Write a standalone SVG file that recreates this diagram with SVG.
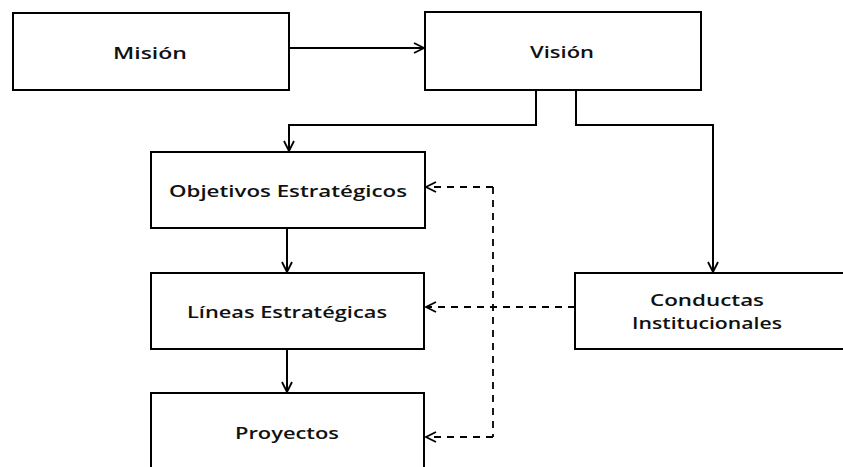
<svg xmlns="http://www.w3.org/2000/svg" width="843" height="467" viewBox="0 0 843 467">
<defs>
<marker id="open" viewBox="0 0 12 12" refX="11" refY="6" markerWidth="12" markerHeight="12" markerUnits="userSpaceOnUse" orient="auto">
<path d="M1,1 L11,6 L1,11" fill="none" stroke="#000" stroke-width="1.8"/>
</marker>
</defs>
<style>
.box{fill:#fff;stroke:#000;stroke-width:2}
.lbl{font-family:"Open Sans","Liberation Sans",sans-serif;font-size:16px;font-weight:600;fill:#111;text-anchor:middle}
.solid{fill:none;stroke:#000;stroke-width:2}
.dash{fill:none;stroke:#000;stroke-width:1.8;stroke-dasharray:7,6}
</style>
<rect width="843" height="467" fill="#fff"/>
<g id="connectors">
<path class="solid" d="M289,48 H424" marker-end="url(#open)"/>
<path class="solid" d="M536,90 V125 H289 V151" marker-end="url(#open)"/>
<path class="solid" d="M576,90 V125 H713 V272" marker-end="url(#open)"/>
<path class="solid" d="M287,228 V272" marker-end="url(#open)"/>
<path class="solid" d="M287,349 V392" marker-end="url(#open)"/>
<path class="dash" d="M575,307 H426" marker-end="url(#open)"/>
<path class="dash" d="M493,187 V437"/>
<path class="dash" d="M493,187 H426" marker-end="url(#open)"/>
<path class="dash" d="M493,437 H426" marker-end="url(#open)"/>
</g>
<g id="mision"><rect class="box" x="13" y="13" width="276" height="77"/><text class="lbl" x="150" y="59" textLength="74" lengthAdjust="spacingAndGlyphs">Misión</text></g>
<g id="vision"><rect class="box" x="425" y="12" width="276" height="78"/><text class="lbl" x="562" y="58" textLength="64" lengthAdjust="spacingAndGlyphs">Visión</text></g>
<g id="objetivos"><rect class="box" x="151" y="152" width="274" height="76"/><text class="lbl" x="288" y="197" textLength="238" lengthAdjust="spacingAndGlyphs">Objetivos Estratégicos</text></g>
<g id="lineas"><rect class="box" x="151" y="273" width="273" height="76"/><text class="lbl" x="287" y="318" textLength="200" lengthAdjust="spacingAndGlyphs">Líneas Estratégicas</text></g>
<g id="proyectos"><rect class="box" x="151" y="393" width="273" height="80"/><text class="lbl" x="287" y="439" textLength="104" lengthAdjust="spacingAndGlyphs">Proyectos</text></g>
<g id="conductas"><rect class="box" x="575" y="273" width="270" height="76"/><text class="lbl" x="707" y="306" textLength="114" lengthAdjust="spacingAndGlyphs">Conductas</text><text class="lbl" x="707" y="329" textLength="150" lengthAdjust="spacingAndGlyphs">Institucionales</text></g>
</svg>
